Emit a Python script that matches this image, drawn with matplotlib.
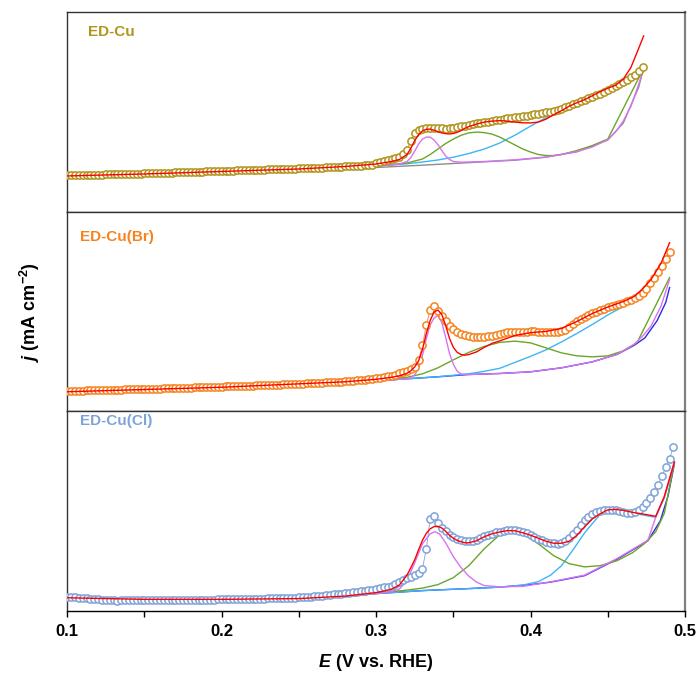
import numpy as np
import matplotlib
matplotlib.use("Agg")
import matplotlib.pyplot as plt
from matplotlib.ticker import MultipleLocator, FormatStrFormatter

plt.rcParams['font.family'] = ['Liberation Sans', 'DejaVu Sans']
plt.rcParams['font.weight'] = 'bold'
plt.rcParams['mathtext.fontset'] = 'custom'
plt.rcParams['mathtext.rm'] = 'Liberation Sans:bold'
plt.rcParams['mathtext.it'] = 'Liberation Sans:bold:italic'
plt.rcParams['mathtext.bf'] = 'Liberation Sans:bold'

# measured LSV points, sampled every 2.5 mV starting at 0.1 V
e_start = 0.1
e_step = 0.0025

cu_data = [
    3.65, 3.66, 3.67, 3.68, 3.69, 3.70, 3.71, 3.72, 3.73, 3.74, 3.75, 3.76, 3.77, 3.78, 3.79, 3.80, 3.81, 3.82, 3.83, 3.84,
    3.85, 3.86, 3.87, 3.89, 3.90, 3.91, 3.92, 3.94, 3.95, 3.96, 3.97, 3.99, 4.00, 4.01, 4.02, 4.04, 4.05, 4.06, 4.07, 4.09,
    4.10, 4.11, 4.12, 4.14, 4.15, 4.16, 4.17, 4.19, 4.20, 4.21, 4.22, 4.24, 4.25, 4.26, 4.27, 4.29, 4.30, 4.31, 4.32, 4.34,
    4.35, 4.36, 4.38, 4.39, 4.41, 4.42, 4.44, 4.46, 4.48, 4.50, 4.52, 4.54, 4.56, 4.58, 4.60, 4.62, 4.64, 4.67, 4.70, 4.74,
    4.85, 4.95, 5.05, 5.15, 5.28, 5.40, 5.55, 5.78, 6.25, 7.10, 7.90, 8.25, 8.36, 8.40, 8.42, 8.42, 8.40, 8.38, 8.36, 8.38,
    8.43, 8.50, 8.58, 8.66, 8.74, 8.82, 8.88, 8.93, 8.98, 9.04, 9.10, 9.17, 9.24, 9.30, 9.37, 9.44, 9.50, 9.55, 9.60, 9.65,
    9.70, 9.77, 9.84, 9.91, 9.98, 10.06, 10.15, 10.25, 10.35, 10.50, 10.65, 10.80, 10.95, 11.10, 11.25, 11.40, 11.55, 11.70, 11.85, 12.05,
    12.25, 12.45, 12.65, 12.85, 13.05, 13.25, 13.50, 13.75, 14.10, 14.55,
]
br_data = [
    2.03, 2.04, 2.05, 2.06, 2.07, 2.08, 2.09, 2.10, 2.11, 2.12, 2.13, 2.14, 2.15, 2.16, 2.17, 2.18, 2.19, 2.20, 2.21, 2.22,
    2.23, 2.24, 2.25, 2.26, 2.27, 2.29, 2.30, 2.31, 2.32, 2.33, 2.34, 2.36, 2.37, 2.38, 2.39, 2.40, 2.42, 2.43, 2.44, 2.45,
    2.47, 2.48, 2.49, 2.50, 2.52, 2.53, 2.54, 2.56, 2.57, 2.58, 2.60, 2.61, 2.62, 2.64, 2.65, 2.67, 2.68, 2.70, 2.71, 2.73,
    2.74, 2.76, 2.78, 2.80, 2.82, 2.84, 2.86, 2.88, 2.90, 2.92, 2.94, 2.97, 3.00, 3.03, 3.06, 3.09, 3.12, 3.16, 3.20, 3.25,
    3.30, 3.36, 3.42, 3.49, 3.56, 3.64, 3.80, 3.95, 4.08, 4.22, 4.45, 5.10, 6.60, 8.60, 10.20, 10.60, 10.05, 9.50, 9.00, 8.55,
    8.20, 7.95, 7.78, 7.65, 7.55, 7.48, 7.44, 7.42, 7.44, 7.50, 7.58, 7.68, 7.78, 7.85, 7.90, 7.94, 7.96, 7.97, 7.98, 7.99,
    8.00, 8.00, 7.98, 7.95, 7.92, 7.90, 7.90, 7.93, 8.00, 8.15, 8.40, 8.70, 9.00, 9.25, 9.45, 9.65, 9.85, 10.00, 10.15, 10.30,
    10.42, 10.55, 10.65, 10.75, 10.88, 11.02, 11.18, 11.35, 11.60, 11.90, 12.30, 12.85, 13.40, 13.95, 14.55, 15.25, 16.00,
]
cl_data = [
    1.38, 1.35, 1.31, 1.28, 1.25, 1.22, 1.19, 1.16, 1.13, 1.10, 1.08, 1.06, 1.02, 0.98, 1.04, 1.05, 1.05, 1.05, 1.05, 1.05,
    1.05, 1.05, 1.05, 1.05, 1.06, 1.06, 1.06, 1.06, 1.07, 1.07, 1.07, 1.08, 1.08, 1.08, 1.09, 1.09, 1.10, 1.10, 1.10, 1.11,
    1.11, 1.12, 1.12, 1.13, 1.14, 1.14, 1.15, 1.16, 1.17, 1.18, 1.19, 1.20, 1.21, 1.22, 1.23, 1.24, 1.25, 1.27, 1.28, 1.30,
    1.31, 1.34, 1.37, 1.40, 1.43, 1.46, 1.50, 1.54, 1.58, 1.62, 1.66, 1.70, 1.74, 1.78, 1.83, 1.88, 1.93, 1.98, 2.04, 2.10,
    2.17, 2.24, 2.32, 2.40, 2.50, 2.68, 2.90, 3.10, 3.25, 3.38, 3.55, 3.80, 4.20, 6.20, 9.20, 9.45, 8.80, 8.30, 7.95, 7.62,
    7.38, 7.22, 7.10, 7.02, 6.98, 7.02, 7.12, 7.25, 7.45, 7.60, 7.72, 7.83, 7.92, 7.98, 8.03, 8.05, 8.03, 7.98, 7.88, 7.75,
    7.58, 7.40, 7.22, 7.05, 6.92, 6.82, 6.75, 6.72, 6.78, 6.95, 7.25, 7.65, 8.10, 8.55, 9.05, 9.40, 9.68, 9.88, 10.00, 10.05,
    10.08, 10.08, 10.05, 9.98, 9.90, 9.83, 9.82, 9.88, 10.05, 10.35, 10.75, 11.25, 11.85, 12.55, 13.45, 14.40, 15.25, 16.45,
]

# ---- ED-Cu fit curves (E, j) ----
cu_fit_e = [0.100, 0.150, 0.200, 0.250, 0.280, 0.300, 0.310, 0.315, 0.320, 0.3225, 0.325, 0.3275, 0.330, 0.3325,
            0.335, 0.3375, 0.340, 0.3425, 0.345, 0.3475, 0.350, 0.3525, 0.355, 0.3575, 0.360, 0.365, 0.370, 0.375,
            0.380, 0.385, 0.390, 0.395, 0.400, 0.405, 0.410, 0.415, 0.420, 0.425, 0.430, 0.435, 0.440, 0.445,
            0.450, 0.455, 0.460, 0.465, 0.470, 0.4732]
cu_fit = [3.60, 3.80, 4.05, 4.30, 4.55, 4.80, 5.05, 5.25, 5.75, 6.40, 7.15, 7.75, 8.12, 8.28,
          8.30, 8.18, 8.04, 7.92, 7.84, 7.82, 7.86, 7.98, 8.15, 8.38, 8.55, 8.80, 9.00, 9.10,
          9.15, 9.10, 9.00, 8.93, 8.92, 9.00, 9.30, 9.75, 10.15, 10.60, 10.95, 11.25, 11.65, 12.05,
          12.40, 12.70, 13.30, 14.50, 16.40, 17.65]
cu_p1_e = [0.100, 0.200, 0.280, 0.300, 0.310, 0.315, 0.320, 0.3225, 0.325, 0.3275, 0.330, 0.3325, 0.335, 0.3375,
           0.340, 0.3425, 0.345, 0.3475, 0.350, 0.355, 0.370, 0.390, 0.410, 0.430, 0.440, 0.450, 0.455, 0.460,
           0.465, 0.470, 0.4732]
cu_p1 = [3.55, 3.95, 4.40, 4.60, 4.70, 4.78, 5.05, 5.45, 6.10, 6.80, 7.30, 7.50, 7.50, 7.20,
         6.75, 6.15, 5.60, 5.25, 5.05, 4.98, 5.05, 5.22, 5.50, 6.05, 6.50, 7.25, 8.00, 9.10,
         10.60, 12.80, 14.40]
cu_p2_e = [0.100, 0.200, 0.280, 0.300, 0.310, 0.320, 0.330, 0.335, 0.340, 0.345, 0.350, 0.355, 0.360, 0.365,
           0.370, 0.375, 0.380, 0.385, 0.390, 0.395, 0.400, 0.405, 0.410, 0.415, 0.420, 0.430, 0.440, 0.450, 0.4732]
cu_p2 = [3.55, 3.95, 4.40, 4.62, 4.75, 4.90, 5.30, 5.75, 6.30, 6.85, 7.30, 7.68, 7.92, 8.00,
         7.95, 7.80, 7.50, 7.10, 6.70, 6.30, 6.00, 5.75, 5.65, 5.65, 5.75, 6.15, 6.65, 7.30, 14.40]
cu_p3_e = [0.100, 0.200, 0.280, 0.300, 0.320, 0.330, 0.340, 0.350, 0.360, 0.370, 0.380, 0.390, 0.400, 0.410,
           0.420, 0.430, 0.440, 0.450, 0.460, 0.4732]
cu_p3 = [3.55, 3.95, 4.40, 4.60, 4.82, 5.00, 5.20, 5.48, 5.85, 6.30, 6.90, 7.70, 8.60, 9.45,
         10.20, 10.85, 11.50, 12.15, 12.80, 14.40]
cu_base_e = [0.100, 0.200, 0.280, 0.300, 0.330, 0.350, 0.390, 0.410, 0.430, 0.450, 0.460, 0.470, 0.4732]
cu_base = [3.50, 3.90, 4.30, 4.45, 4.68, 4.85, 5.18, 5.48, 6.02, 7.20, 8.90, 12.50, 14.40]

# ---- ED-Cu(Br) fit curves ----
br_fit_e = [0.100, 0.200, 0.280, 0.300, 0.310, 0.315, 0.320, 0.3225, 0.325, 0.3275, 0.330, 0.3325, 0.335, 0.3375,
            0.340, 0.3425, 0.345, 0.3475, 0.350, 0.3525, 0.355, 0.3575, 0.360, 0.365, 0.370, 0.375, 0.380, 0.390,
            0.400, 0.410, 0.420, 0.430, 0.440, 0.450, 0.460, 0.467, 0.472, 0.478, 0.4845, 0.490]
br_fit = [1.95, 2.40, 2.95, 3.20, 3.40, 3.55, 3.80, 4.05, 4.45, 5.05, 6.20, 7.80, 9.10, 9.95,
          10.15, 9.70, 8.60, 7.30, 6.40, 5.90, 5.68, 5.62, 5.68, 5.95, 6.40, 6.80, 7.05, 7.60,
          7.88, 8.00, 8.30, 9.00, 9.80, 10.45, 11.00, 11.50, 12.20, 13.20, 14.85, 16.90]
br_p1_e = [0.100, 0.200, 0.280, 0.300, 0.320, 0.3225, 0.325, 0.3275, 0.330, 0.3325, 0.335, 0.3375, 0.340, 0.3425,
           0.345, 0.3475, 0.350, 0.3525, 0.355, 0.360, 0.380, 0.400, 0.420, 0.440, 0.456, 0.467, 0.473, 0.478,
           0.4845, 0.490]
br_p1 = [1.95, 2.40, 2.90, 3.05, 3.25, 3.35, 3.65, 4.30, 5.60, 7.30, 8.65, 9.35, 9.60, 8.90,
         7.40, 5.80, 4.70, 4.00, 3.72, 3.68, 3.78, 3.95, 4.35, 4.95, 5.70, 6.70, 7.60, 8.55,
         10.55, 13.20]
br_p2_e = [0.100, 0.200, 0.280, 0.300, 0.320, 0.330, 0.340, 0.350, 0.360, 0.370, 0.380, 0.390, 0.400, 0.410,
           0.420, 0.430, 0.440, 0.450, 0.460, 0.469, 0.490]
br_p2 = [1.95, 2.40, 2.90, 3.10, 3.40, 3.75, 4.35, 5.15, 5.90, 6.50, 6.90, 7.03, 6.85, 6.35,
         5.85, 5.55, 5.45, 5.55, 6.05, 6.90, 13.40]
br_p3_e = [0.100, 0.200, 0.280, 0.300, 0.320, 0.340, 0.360, 0.370, 0.380, 0.390, 0.400, 0.410, 0.420, 0.430,
           0.440, 0.450, 0.460, 0.470, 0.480, 0.4845, 0.490]
br_p3 = [1.95, 2.40, 2.90, 3.05, 3.25, 3.45, 3.75, 4.00, 4.30, 4.90, 5.50, 6.15, 6.95, 7.80,
         8.70, 9.65, 10.50, 11.40, 13.10, 14.30, 15.80]
br_base_e = [0.100, 0.200, 0.280, 0.300, 0.340, 0.360, 0.380, 0.400, 0.420, 0.440, 0.456, 0.467, 0.474, 0.482,
             0.4875, 0.490]
br_base = [1.95, 2.40, 2.90, 3.05, 3.45, 3.68, 3.78, 3.95, 4.35, 4.95, 5.70, 6.60, 7.35, 9.10,
           10.90, 12.40]

# ---- ED-Cu(Cl) fit curves ----
cl_fit_e = [0.100, 0.150, 0.200, 0.250, 0.280, 0.300, 0.305, 0.310, 0.315, 0.320, 0.3225, 0.325, 0.3275, 0.330,
            0.3325, 0.335, 0.3375, 0.340, 0.3425, 0.345, 0.3475, 0.350, 0.3525, 0.355, 0.3575, 0.360, 0.365,
            0.370, 0.375, 0.380, 0.385, 0.390, 0.395, 0.400, 0.405, 0.410, 0.415, 0.420, 0.425, 0.430, 0.435,
            0.440, 0.445, 0.450, 0.455, 0.460, 0.467, 0.474, 0.481, 0.4865, 0.4931]
cl_fit = [1.28, 1.12, 1.12, 1.20, 1.45, 1.80, 1.95, 2.15, 2.55, 3.55, 4.30, 5.10, 6.10, 7.05,
          7.75, 8.20, 8.42, 8.45, 8.28, 7.95, 7.55, 7.25, 7.03, 6.90, 6.80, 6.80, 7.00,
          7.40, 7.70, 7.88, 8.02, 8.00, 7.80, 7.55, 7.25, 6.95, 6.75, 6.75, 6.95, 7.55, 8.40,
          9.20, 9.70, 10.10, 10.15, 10.05, 9.82, 9.65, 9.45, 11.40, 14.90]
cl_p1_e = [0.100, 0.200, 0.250, 0.280, 0.300, 0.310, 0.315, 0.320, 0.325, 0.330, 0.335, 0.338, 0.341, 0.345,
           0.350, 0.355, 0.360, 0.365, 0.370, 0.380, 0.395, 0.413, 0.435, 0.456, 0.476, 0.4812, 0.4865, 0.4931]
cl_p1 = [1.20, 1.05, 1.15, 1.40, 1.70, 1.90, 2.15, 3.00, 4.80, 6.70, 7.70, 7.90, 7.70, 6.80,
         5.40, 4.30, 3.45, 2.85, 2.50, 2.38, 2.42, 2.88, 3.55, 5.22, 7.05, 9.45, 11.35, 14.85]
cl_p2_e = [0.100, 0.200, 0.250, 0.280, 0.300, 0.320, 0.330, 0.340, 0.350, 0.360, 0.370, 0.380, 0.3872, 0.395,
           0.405, 0.415, 0.425, 0.435, 0.445, 0.456, 0.466, 0.474, 0.481, 0.4866, 0.4931]
cl_p2 = [1.20, 1.05, 1.15, 1.40, 1.72, 2.05, 2.25, 2.60, 3.30, 4.50, 6.20, 7.60, 8.05, 7.75,
         6.70, 5.50, 4.70, 4.38, 4.50, 5.00, 5.80, 6.75, 7.90, 9.75, 14.85]
cl_p3_e = [0.100, 0.200, 0.250, 0.280, 0.300, 0.330, 0.360, 0.380, 0.395, 0.405, 0.413, 0.420, 0.428, 0.435,
           0.4454, 0.452, 0.460, 0.467, 0.474, 0.481, 0.4866, 0.4931]
cl_p3 = [1.20, 1.05, 1.15, 1.40, 1.70, 2.00, 2.20, 2.35, 2.55, 2.90, 3.55, 4.50, 6.20, 7.80,
         9.72, 10.15, 10.00, 9.75, 9.55, 9.35, 11.30, 14.80]
cl_base_e = [0.100, 0.200, 0.250, 0.280, 0.300, 0.330, 0.360, 0.380, 0.400, 0.413, 0.435, 0.456, 0.476, 0.484,
             0.489, 0.4931]
cl_base = [1.20, 1.05, 1.15, 1.40, 1.70, 2.00, 2.20, 2.35, 2.60, 2.85, 3.50, 5.15, 7.00, 9.00,
           11.50, 14.70]

labels = ['ED-Cu', 'ED-Cu(Br)', 'ED-Cu(Cl)']
marker_colors = ['#B0941C', '#F5841F', '#7EA3DA']
label_pos = [(0.034, 0.90), (0.021, 0.872), (0.021, 0.95)]

panels = [
    (cu_data, cu_fit_e, cu_fit, cu_p1_e, cu_p1, cu_p2_e, cu_p2, cu_p3_e, cu_p3, cu_base_e, cu_base, '#8C8C8C'),
    (br_data, br_fit_e, br_fit, br_p1_e, br_p1, br_p2_e, br_p2, br_p3_e, br_p3, br_base_e, br_base, '#2A2AE6'),
    (cl_data, cl_fit_e, cl_fit, cl_p1_e, cl_p1, cl_p2_e, cl_p2, cl_p3_e, cl_p3, cl_base_e, cl_base, '#2A2AE6'),
]

fig, axes = plt.subplots(3, 1, figsize=(7, 6.82), dpi=100, sharex=True, gridspec_kw={'hspace': 0})
fig.subplots_adjust(left=0.0961, right=0.9786, bottom=0.1048, top=0.9817)

for i, ax in enumerate(axes):
    data, fe, fv, e1, v1, e2, v2, e3, v3, eb, vb, bcol = panels[i]
    e_data = e_start + e_step * np.arange(len(data))

    ax.plot(eb, vb, color=bcol, lw=1.0, zorder=2)
    ax.plot(e3, v3, color='#3EB5F7', lw=1.0, zorder=3)
    ax.plot(e2, v2, color='#6CA527', lw=1.0, zorder=3)
    ax.plot(e1, v1, color='#D873F0', lw=1.0, zorder=3)
    ax.plot(e_data, data, '-o', color=marker_colors[i], lw=0.6, ms=5.2, mfc='white',
            mec=marker_colors[i], mew=1.1, zorder=4)
    ax.plot(fe, fv, color='#FF0000', lw=1.0, zorder=5)

    ax.text(label_pos[i][0], label_pos[i][1], labels[i], transform=ax.transAxes,
            color=marker_colors[i], fontsize=11, fontweight='bold', va='center', ha='left')

    ax.set_xlim(0.1, 0.5)
    ax.set_ylim(0, 20)
    ax.set_yticks([])
    for side in ['top', 'left', 'right', 'bottom']:
        ax.spines[side].set_color('#333333')
        ax.spines[side].set_linewidth(1.0)
    ax.spines['right'].set_color('#808080')
    ax.spines['right'].set_linewidth(1.6)
    if i < 2:
        ax.tick_params(axis='x', which='both', bottom=False, labelbottom=False)

ax = axes[2]
ax.spines['bottom'].set_color('black')
ax.xaxis.set_major_locator(MultipleLocator(0.1))
ax.xaxis.set_minor_locator(MultipleLocator(0.05))
ax.xaxis.set_major_formatter(FormatStrFormatter('%.1f'))
ax.tick_params(axis='x', which='both', direction='out', length=4, width=1.0, pad=6)
ax.tick_params(axis='x', labelsize=12)

fig.text(0.537, 0.028, r'$E$ (V vs. RHE)', ha='center', va='center', fontsize=13, fontweight='bold')
fig.text(0.043, 0.543, r'$j$ (mA cm$^{-2}$)', ha='center', va='center', rotation=90,
         fontsize=13, fontweight='bold')

fig.savefig('out.png', dpi=100)
